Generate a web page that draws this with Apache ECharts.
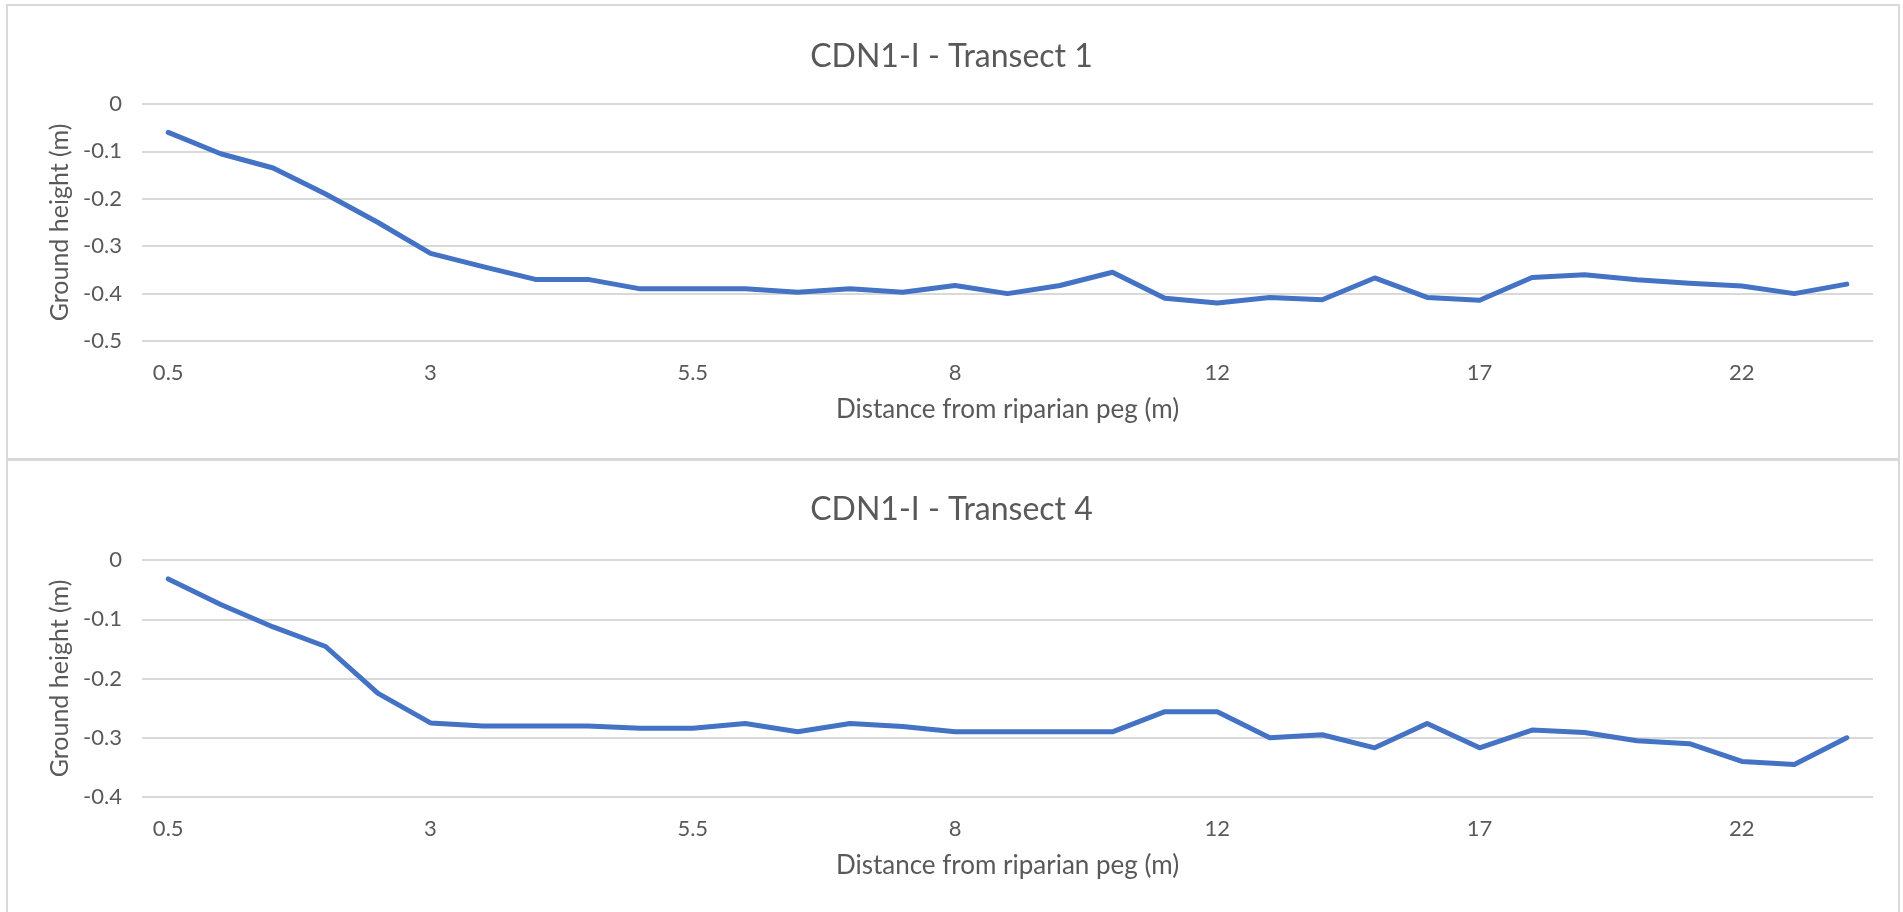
<!DOCTYPE html>
<html>
<head>
<meta charset="utf-8">
<script src="https://cdn.jsdelivr.net/npm/echarts@6/dist/echarts.min.js"></script>
<style>
html,body{margin:0;padding:0;background:#fff;}
#chart{width:1903px;height:912px;}
</style>
</head>
<body>
<div id="chart"></div>
<script>
// Category labels: distance from riparian peg (m)
var distances = ['0.5','1','1.5','2','2.5','3','3.5','4','4.5','5','5.5','6','6.5','7','7.5','8',
  '8.5','9','10','11','12','13','14','15','16','17','18','19','20','21','22','23','24'];
// Ground height (m), Transect 1
var transect1 = [-0.06,-0.105,-0.135,-0.19,-0.25,-0.315,-0.343,-0.37,-0.37,-0.39,-0.39,-0.39,-0.397,-0.39,-0.397,-0.383,
  -0.40,-0.383,-0.355,-0.41,-0.42,-0.408,-0.413,-0.367,-0.408,-0.414,-0.366,-0.36,-0.371,-0.378,-0.384,-0.40,-0.38];
// Ground height (m), Transect 4
var transect4 = [-0.032,-0.075,-0.113,-0.146,-0.225,-0.275,-0.28,-0.28,-0.28,-0.284,-0.284,-0.276,-0.29,-0.276,-0.281,-0.29,
  -0.29,-0.29,-0.29,-0.256,-0.256,-0.30,-0.295,-0.317,-0.276,-0.317,-0.287,-0.291,-0.305,-0.31,-0.34,-0.345,-0.30];
var titles = ['CDN1-I - Transect 1', 'CDN1-I - Transect 4'];
var yMins = [-0.5, -0.4];
var xName = 'Distance from riparian peg (m)';
var yName = 'Ground height (m)';

var FONT = 'Lato, "Open Sans", sans-serif';
var TXT = '#595959';
var GRIDC = '#d9d9d9';
var LINEC = '#4472c4';

var chart = echarts.init(document.getElementById('chart'), null, {renderer:'canvas'});

function xAxis(i){
  return {
    type:'category', gridIndex:i, data:distances, boundaryGap:true,
    axisLine:{show:false}, axisTick:{show:false},
    axisLabel:{interval:4, color:TXT, fontFamily:FONT, fontSize:22, margin:21},
    name:xName, nameLocation:'middle', nameGap:56,
    nameTextStyle:{color:TXT, fontFamily:FONT, fontSize:26}
  };
}
function yAxis(i){
  return {
    type:'value', gridIndex:i, min:yMins[i], max:0, interval:0.1,
    axisLine:{show:false}, axisTick:{show:false},
    axisLabel:{color:TXT, fontFamily:FONT, fontSize:22, margin:20},
    splitLine:{lineStyle:{color:GRIDC, width:2}},
    name:yName, nameLocation:'middle', nameRotate:90, nameGap:69,
    nameTextStyle:{color:TXT, fontFamily:FONT, fontSize:25}
  };
}

var option = {
  animation:false,
  backgroundColor:'#ffffff',
  title:[
    {text:titles[0], left:'center', top:36, textStyle:{color:TXT, fontFamily:FONT, fontSize:32, fontWeight:'normal'}},
    {text:titles[1], left:'center', top:489, textStyle:{color:TXT, fontFamily:FONT, fontSize:32, fontWeight:'normal'}}
  ],
  grid:[
    {left:142, right:30, top:104, height:237},
    {left:142, right:30, top:560, height:237}
  ],
  xAxis:[xAxis(0), xAxis(1)],
  yAxis:[yAxis(0), yAxis(1)],
  series:[
    {type:'line', xAxisIndex:0, yAxisIndex:0, data:transect1, showSymbol:false, symbol:'none',
      lineStyle:{color:LINEC, width:5, join:'round', cap:'round'}},
    {type:'line', xAxisIndex:1, yAxisIndex:1, data:transect4, showSymbol:false, symbol:'none',
      lineStyle:{color:LINEC, width:5, join:'round', cap:'round'}}
  ],
  graphic:[
    {type:'rect', shape:{x:7, y:5, width:1892, height:454}, style:{fill:null, stroke:GRIDC, lineWidth:2}, silent:true},
    {type:'rect', shape:{x:7, y:460, width:1892, height:460}, style:{fill:null, stroke:GRIDC, lineWidth:2}, silent:true}
  ]
};
chart.setOption(option);
</script>
</body>
</html>
